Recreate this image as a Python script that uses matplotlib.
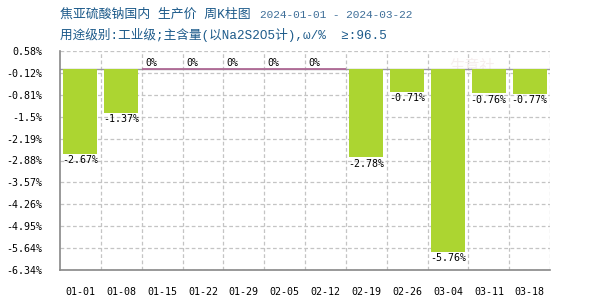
import matplotlib
matplotlib.use("Agg")
import matplotlib.pyplot as plt
import numpy as np

# weekly change, %
dates = ["01-01", "01-08", "01-15", "01-22", "01-29", "02-05", "02-12",
         "02-19", "02-26", "03-04", "03-11", "03-18"]
values = [-2.67, -1.37, 0, 0, 0, 0, 0, -2.78, -0.71, -5.76, -0.76, -0.77]
ytick_vals = [0.58, -0.12, -0.81, -1.5, -2.19, -2.88, -3.57, -4.26, -4.95, -5.64, -6.34]
ytick_labels = ["0.58%", "-0.12%", "-0.81%", "-1.5%", "-2.19%", "-2.88%",
                "-3.57%", "-4.26%", "-4.95%", "-5.64%", "-6.34%"]

title_cn = "焦亚硫酸钠国内 生产价 周K柱图"
title_dates = "2024-01-01 - 2024-03-22"
subtitle = "用途级别:工业级;主含量(以Na2S2O5计),ω/%  ≥:96.5"

mono = "DejaVu Sans Mono"
mixed = ["Liberation Mono", "Noto Sans CJK SC", "DejaVu Sans"]
bar_color = "#acd531"
grid_color = "#c4c4c4"

fig = plt.figure(figsize=(6, 3), dpi=100)
ax = fig.add_axes([0.1, 0.1, 0.817, 0.73])

n = len(dates)
x = np.arange(n)
w = 0.83

ax.set_xlim(-0.5, n - 0.5)
ax.set_ylim(-6.34, 0.58)

# grid
for yv in ytick_vals:
    ax.axhline(yv, color=grid_color, lw=0.9, ls=(0, (3, 2)), zorder=0)
for xv in np.arange(0.5, n, 1.0):
    ax.axvline(xv, color=grid_color, lw=0.9, ls=(0, (3, 2)), zorder=0)
ax.axhline(0, color="#999999", lw=1.0, zorder=1)

# faint watermark, behind the bars
ax.text(0.84, 0.93, "生意社", transform=ax.transAxes, fontsize=11, color="#f6eeee",
        family=["Noto Sans CJK SC", "DejaVu Sans"], ha="center", va="center", zorder=0.5)

ax.bar(x, values, width=w, color=bar_color, zorder=2)

for xi, v in zip(x, values):
    if v == 0:
        ax.hlines(0, xi - 0.5, xi + 0.5, color="#b06a96", lw=1.3, zorder=3)
        ax.annotate("0%", (xi - w / 2, 0), xytext=(0, 1), textcoords="offset points",
                    ha="left", va="bottom", fontsize=7.2, family=mono)
    else:
        ax.annotate(f"{v:.2f}%", (xi - w / 2 - 0.03, v), xytext=(0, -1),
                    textcoords="offset points", ha="left", va="top",
                    fontsize=7.2, family=mono)

ax.set_yticks(ytick_vals)
ax.set_yticklabels(ytick_labels, family=mono, fontsize=7.2)
ax.set_xticks(x)
ax.set_xticklabels(dates, family=mono, fontsize=7.2)
ax.tick_params(axis="y", length=0, pad=13)
ax.tick_params(axis="x", length=0, pad=12)

for s in ["top", "right"]:
    ax.spines[s].set_visible(False)
for s in ["left", "bottom"]:
    ax.spines[s].set_color("#888888")
    ax.spines[s].set_linewidth(1.2)

fig.text(0.1, 0.95, title_cn, fontsize=9.3, color="#1c5a8a",
         family=mixed, va="center")
fig.text(0.433, 0.95, title_dates, fontsize=8.0, color="#3f6f99",
         family="Liberation Mono", va="center")
fig.text(0.1, 0.883, subtitle, fontsize=9.1, color="#1c5a8a",
         family=mixed, va="center")

fig.savefig("out.png", dpi=100)
